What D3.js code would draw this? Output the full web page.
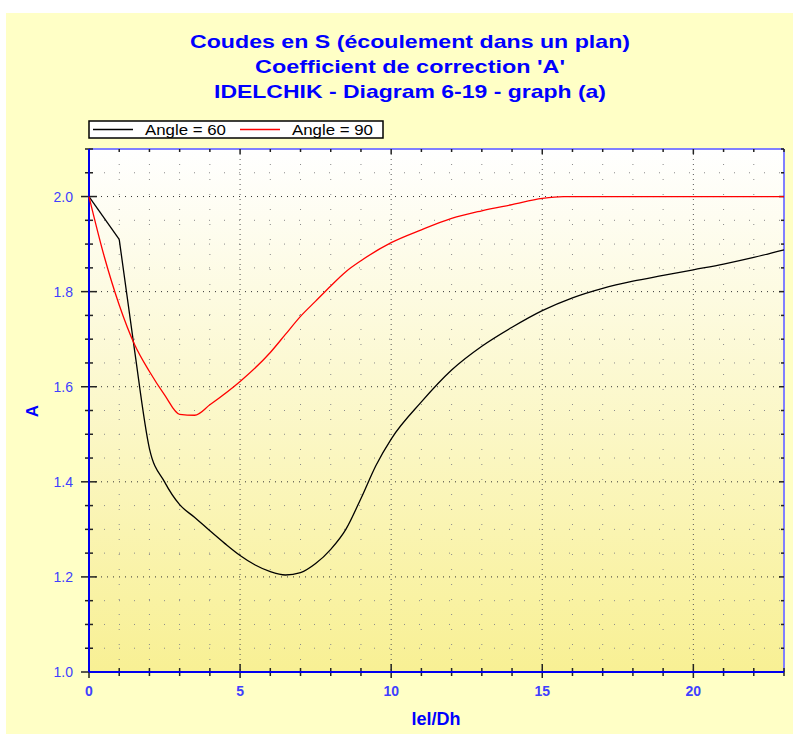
<!DOCTYPE html>
<html>
<head>
<meta charset="utf-8">
<script src="https://cdnjs.cloudflare.com/ajax/libs/d3/7.8.5/d3.min.js"></script>
<style>
  body { margin: 0; background: #ffffff; }
  text { font-family: Arial, "Liberation Sans", sans-serif; }
</style>
</head>
<body>
<script>
// chart values
const titleLines = ["Coudes en S (écoulement dans un plan)", "Coefficient de correction 'A'", "IDELCHIK - Diagram 6-19 - graph (a)"];
const seriesNames = ["Angle = 60", "Angle = 90"];
const seriesColors = ["#000000", "#ff0000"];

const x60 = [0, 1, 1.5, 2, 2.5, 3, 3.5, 4, 4.5, 5, 5.5, 6, 6.5, 7, 7.5, 8, 8.5, 9, 9.5, 10, 11, 12, 13, 14, 15, 16, 17, 18, 19, 20, 21, 22, 23];
const a60 = [2.0, 1.91, 1.68, 1.47, 1.40, 1.352, 1.325, 1.297, 1.27, 1.245, 1.225, 1.211, 1.204, 1.209, 1.228, 1.258, 1.30, 1.365, 1.435, 1.49, 1.568, 1.635, 1.685, 1.725, 1.76, 1.787, 1.807, 1.822, 1.834, 1.846, 1.858, 1.872, 1.888];

const x90 = [0, 0.5, 1, 1.5, 2, 2.5, 3, 3.5, 4, 5, 6, 6.5, 7, 7.5, 8, 8.5, 9, 10, 11, 12, 13, 14, 15, 15.7, 17, 20, 23];
const a90 = [2.0, 1.875, 1.772, 1.69, 1.632, 1.583, 1.542, 1.54, 1.562, 1.611, 1.672, 1.71, 1.748, 1.78, 1.812, 1.842, 1.865, 1.903, 1.93, 1.954, 1.97, 1.983, 1.996, 2.0, 2.0, 2.0, 2.0];

const xTicks = [0, 5, 10, 15, 20];
const yTicks = [1.0, 1.2, 1.4, 1.6, 1.8, 2.0];

function init() {
  const W = 793, H = 734;
  const pl = 89, pr = 784, pt = 149, pb = 672;

  const svg = d3.select("body").append("svg")
    .attr("width", W)
    .attr("height", H);

  // pale yellow panel
  svg.append("rect")
    .attr("x", 6).attr("y", 13)
    .attr("width", W - 6).attr("height", H - 13)
    .attr("fill", "#ffffc6");

  const grad = svg.append("defs").append("linearGradient")
    .attr("id", "plotbg").attr("x1", 0).attr("y1", 0).attr("x2", 0).attr("y2", 1);
  grad.append("stop").attr("offset", "0%").attr("stop-color", "#ffffff");
  grad.append("stop").attr("offset", "100%").attr("stop-color", "#f8f094");

  const x = d3.scaleLinear().domain([0, 23]).range([pl, pr]);
  const y = d3.scaleLinear().domain([1.0, 2.1]).range([pb, pt]);

  svg.append("rect")
    .attr("x", pl).attr("y", pt)
    .attr("width", pr - pl).attr("height", pb - pt)
    .attr("fill", "url(#plotbg)");

  // minor grid (faint dots)
  const xMinor = d3.range(1, 23).filter(v => v % 5 !== 0);
  const yMinor = d3.range(1.05, 2.1, 0.05).filter(v => Math.abs(v * 5 - Math.round(v * 5)) > 1e-6);
  svg.append("g").selectAll("line").data(xMinor).join("line")
    .attr("x1", d => x(d)).attr("x2", d => x(d))
    .attr("y1", pt).attr("y2", pb)
    .attr("stroke", "#8a8a8a").attr("stroke-width", 1)
    .attr("stroke-dasharray", "1,14");
  svg.append("g").selectAll("line").data(yMinor).join("line")
    .attr("x1", pl).attr("x2", pr)
    .attr("y1", d => y(d)).attr("y2", d => y(d))
    .attr("stroke", "#8a8a8a").attr("stroke-width", 1)
    .attr("stroke-dasharray", "1,14");

  // major grid
  svg.append("g").selectAll("line").data(xTicks.slice(1)).join("line")
    .attr("x1", d => x(d)).attr("x2", d => x(d))
    .attr("y1", pt).attr("y2", pb)
    .attr("stroke", "#555555").attr("stroke-width", 1)
    .attr("stroke-dasharray", "1,4");
  svg.append("g").selectAll("line").data(yTicks.slice(1)).join("line")
    .attr("x1", pl).attr("x2", pr)
    .attr("y1", d => y(d)).attr("y2", d => y(d))
    .attr("stroke", "#333333").attr("stroke-width", 1)
    .attr("stroke-dasharray", "1,5");

  // frame: top/right light blue
  svg.append("line").attr("x1", pl).attr("x2", pr).attr("y1", pt).attr("y2", pt)
    .attr("stroke", "#8080ff").attr("stroke-width", 2);
  svg.append("line").attr("x1", pr).attr("x2", pr).attr("y1", pt).attr("y2", pb)
    .attr("stroke", "#8080ff").attr("stroke-width", 2);

  // ticks on all sides
  const xAllMinor = d3.range(0, 24);
  const yAllMinor = d3.range(1.0, 2.101, 0.05);
  const tk = svg.append("g").attr("stroke", "#222222").attr("stroke-width", 1.5);
  xAllMinor.forEach(v => {
    const major = v % 5 === 0;
    tk.append("line").attr("x1", x(v)).attr("x2", x(v))
      .attr("y1", pb - (major ? 8 : 4)).attr("y2", pb + (major ? 6 : 4));
    tk.append("line").attr("x1", x(v)).attr("x2", x(v))
      .attr("y1", pt).attr("y2", pt + (major ? 5 : 3));
  });
  yAllMinor.forEach(v => {
    const major = Math.abs(v * 5 - Math.round(v * 5)) < 1e-6;
    tk.append("line").attr("y1", y(v)).attr("y2", y(v))
      .attr("x1", pl - (major ? 8 : 4)).attr("x2", pl + (major ? 8 : 4));
    tk.append("line").attr("y1", y(v)).attr("y2", y(v))
      .attr("x1", pr - (major ? 5 : 3)).attr("x2", pr);
  });

  // main axes in blue
  svg.append("line").attr("x1", pl).attr("x2", pl).attr("y1", pt).attr("y2", pb)
    .attr("stroke", "#0000ee").attr("stroke-width", 2);
  svg.append("line").attr("x1", pl).attr("x2", pr).attr("y1", pb).attr("y2", pb)
    .attr("stroke", "#0000ee").attr("stroke-width", 2);

  // tick labels
  svg.append("g").selectAll("text").data(xTicks).join("text")
    .attr("x", d => x(d)).attr("y", pb + 24)
    .attr("text-anchor", "middle")
    .attr("font-size", 14).attr("font-weight", "bold")
    .attr("fill", "#4040ff")
    .text(d => d);
  svg.append("g").selectAll("text").data(yTicks).join("text")
    .attr("x", pl - 16).attr("y", d => y(d) + 5)
    .attr("text-anchor", "end")
    .attr("font-size", 14)
    .attr("fill", "#4040ff")
    .text(d => d.toFixed(1));

  // series: black has a straight first segment, then smooth
  const line = d3.line().x(d => x(d[0])).y(d => y(d[1])).curve(d3.curveMonotoneX);
  const lineStraight = d3.line().x(d => x(d[0])).y(d => y(d[1]));
  const s60 = x60.map((v, i) => [v, a60[i]]);
  const s90 = x90.map((v, i) => [v, a90[i]]);
  svg.append("path").datum(s60.filter(d => d[0] <= 1)).attr("d", lineStraight)
    .attr("fill", "none").attr("stroke", seriesColors[0]).attr("stroke-width", 1.3);
  svg.append("path").datum(s60.filter(d => d[0] >= 1)).attr("d", line)
    .attr("fill", "none").attr("stroke", seriesColors[0]).attr("stroke-width", 1.3);
  svg.append("path").datum(s90).attr("d", line)
    .attr("fill", "none").attr("stroke", seriesColors[1]).attr("stroke-width", 1.3);

  // titles (stretched a little wider like the original)
  const titleWidths = [440, 310, 392];
  svg.append("g").selectAll("text").data(titleLines).join("text")
    .attr("x", 410).attr("y", (d, i) => 48 + i * 25)
    .attr("text-anchor", "middle")
    .attr("font-size", 19).attr("font-weight", "bold")
    .attr("fill", "#0000ff")
    .attr("textLength", (d, i) => titleWidths[i])
    .attr("lengthAdjust", "spacingAndGlyphs")
    .text(d => d);

  // axis titles
  svg.append("text")
    .attr("x", 436).attr("y", 725)
    .attr("text-anchor", "middle")
    .attr("font-size", 18).attr("font-weight", "bold")
    .attr("fill", "#0000ff")
    .text("lel/Dh");
  svg.append("text")
    .attr("transform", "translate(38,411) rotate(-90)")
    .attr("text-anchor", "middle")
    .attr("font-size", 17).attr("font-weight", "bold")
    .attr("fill", "#0000ff")
    .text("A");

  // legend
  const lg = svg.append("g");
  lg.append("rect")
    .attr("x", 89).attr("y", 121).attr("width", 294).attr("height", 17)
    .attr("fill", "#ffffff").attr("stroke", "#000000").attr("stroke-width", 1.5);
  const lgX = [93, 240];
  seriesNames.forEach((n, i) => {
    lg.append("line")
      .attr("x1", lgX[i]).attr("x2", lgX[i] + 40)
      .attr("y1", 129.5).attr("y2", 129.5)
      .attr("stroke", seriesColors[i]).attr("stroke-width", 1.3);
    lg.append("text")
      .attr("x", lgX[i] + 52).attr("y", 135)
      .attr("font-size", 15)
      .attr("fill", "#000000")
      .attr("textLength", 81)
      .attr("lengthAdjust", "spacingAndGlyphs")
      .text(n);
  });
}
init();
</script>
</body>
</html>
